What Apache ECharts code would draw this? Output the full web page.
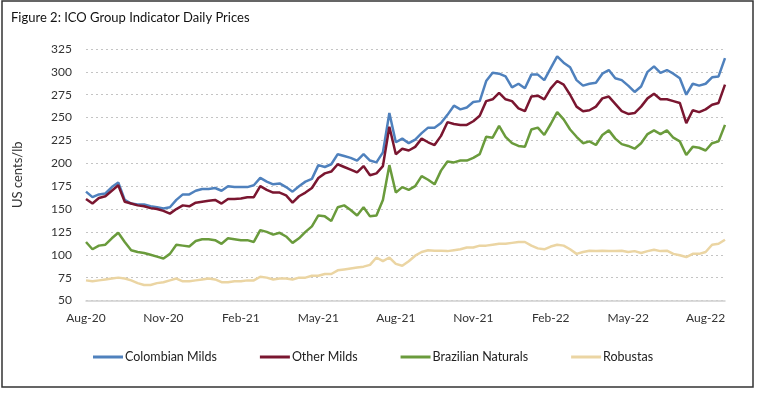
<!DOCTYPE html>
<html><head><meta charset="utf-8">
<script src="https://cdn.jsdelivr.net/npm/echarts@6/dist/echarts.min.js"></script>
<style>html,body{margin:0;padding:0;background:#fff}#c{width:758px;height:393px}</style>
</head><body><div id="c"></div>
<script>
const titleText = 'Figure 2: ICO Group Indicator Daily Prices';
const yAxisName = 'US cents/lb';
const tickLabels = ['Aug-20','Nov-20','Feb-21','May-21','Aug-21','Nov-21','Feb-22','May-22','Aug-22'];
const seriesNames = ['Colombian Milds','Other Milds','Brazilian Naturals','Robustas'];
// readings every quarter month, starting at Aug-20 (month 0)
const STEP = 0.25;
const colombian = [169,163,166,167,174,179,160,156,155,155,153,152,150.5,152,160,166,166,170,172,172,173,170,175,174,174,
 174,176,184,180,177,178,174,169,175,180,183,198,196,199,210,208,206,203,210,203,201,212,255,
 223,227,222,226,233,239,239,244,253,263,259,261,267,268,290,299,298,295,283,287,282,297,297,291,304,
 317,310,305,291,285,287,288,298,302,293,291,285,278,284,300,306,299,302,298,293,275,287,285,287,294,295,315];
const otherMilds = [161,156,162,164,170,176,158,156,154,153,151,150,148,145,150,154,153,157,158,159,160,156,161,161,161.5,
 163,163,175,171,168,168,165,157,164,168,173,184,189,191,199,196,193,190,197,187,189,197,240,
 210,216,214,218,227,223,220,230,245,243,242,242,246,252,268,270,277,270,268,260,257,273,274,270,282,
 290,286,275,262,257,258,262,271,273,265,257,254,255,262,271,276,270,270,268,266,244,258,256,259,264,266,286];
const brazilian = [114,106,110,111,118,124,114,105,103,102,100,98,96,101,111,110,109,115,117,117,116,112,118,117,116,
 116,114,127,125,122,124,120,113,118,125,131,143,142,137,152,154,149,143,152,142,143,160,198,
 168,174,171,175,186,182,177,192,202,201,203,203,206,210,229,228,241,229,222,219,218,237,239,231,243,
 256,248,237,229,222,224,220,231,236,227,221,219,216,222,232,236,232,236,228,224,209,218,217,214,222,224,242];
const robustas = [72,71,72,73,74,75,74,72,69,67,67,69,70,72,74,71,71,72,73,74,73,70,70,71,71,
 72,72,76,75,73,74,74,73,75,75,77,77,79,79,83,84,85,86,87,89,97,93,97,
 90,88,93,99,103,105,104.5,104.5,104,105,106,108,108,110,110,111,112,112,113,114,114,110,107,106,109,
 111,110,106,101,103,104.5,104,104.5,104,104,104.5,103,104,102,104,105.5,104,104.5,101,99.5,97.5,101,101,103,111,112,116.5];

const values = [colombian, otherMilds, brazilian, robustas];
const colors = ['#4F81BD','#7A1630','#6A9B3C','#EBD5A3'];
const FONT = 'Lato';
const chart = echarts.init(document.getElementById('c'), null, {renderer:'canvas'});
const xMax = (colombian.length - 1) * STEP;
chart.setOption({
  animation:false,
  textStyle:{fontFamily:FONT},
  title:{text:titleText,left:6,top:6,textStyle:{fontFamily:FONT,fontSize:13,fontWeight:'normal',color:'#111'}},
  graphic:[{type:'rect',shape:{x:2,y:1,width:751,height:386},style:{fill:'none',stroke:'#333',lineWidth:1.5},silent:true}],
  grid:{left:86,right:33,top:49,bottom:92.5,containLabel:false},
  legend:{data:seriesNames,left:93,top:350.5,itemGap:43,itemWidth:30,itemHeight:3,icon:'rect',padding:0,
    textStyle:{fontFamily:FONT,fontSize:12.5,color:'#222',padding:[0,0,0,-3]}},
  xAxis:{type:'value',min:0,max:xMax,interval:3,
    axisLine:{show:true,lineStyle:{color:'#d0d0d0',width:1.5}},axisTick:{show:false},splitLine:{show:false},
    axisLabel:{showMaxLabel:false,margin:12,fontSize:12,color:'#333',fontFamily:FONT,
      formatter:v=>{const k=Math.round(v/3);return Math.abs(v-3*k)<1e-6&&tickLabels[k]?tickLabels[k]:'';}}},
  yAxis:{type:'value',min:50,max:325,interval:25,name:yAxisName,nameLocation:'middle',nameGap:62,
    nameTextStyle:{fontFamily:FONT,fontSize:13,color:'#333'},
    axisLine:{show:false},axisTick:{show:false},
    axisLabel:{margin:14,fontSize:12,color:'#333',fontFamily:FONT},
    splitLine:{lineStyle:{type:[2,3],color:'#c4c4c4',width:1.2}}},
  series:seriesNames.map((n,s)=>({name:n,type:'line',symbol:'none',showSymbol:false,
    lineStyle:{width:2.5,color:colors[s]},itemStyle:{color:colors[s]},
    data:values[s].map((v,i)=>[i*STEP,v])}))
});
</script></body></html>
